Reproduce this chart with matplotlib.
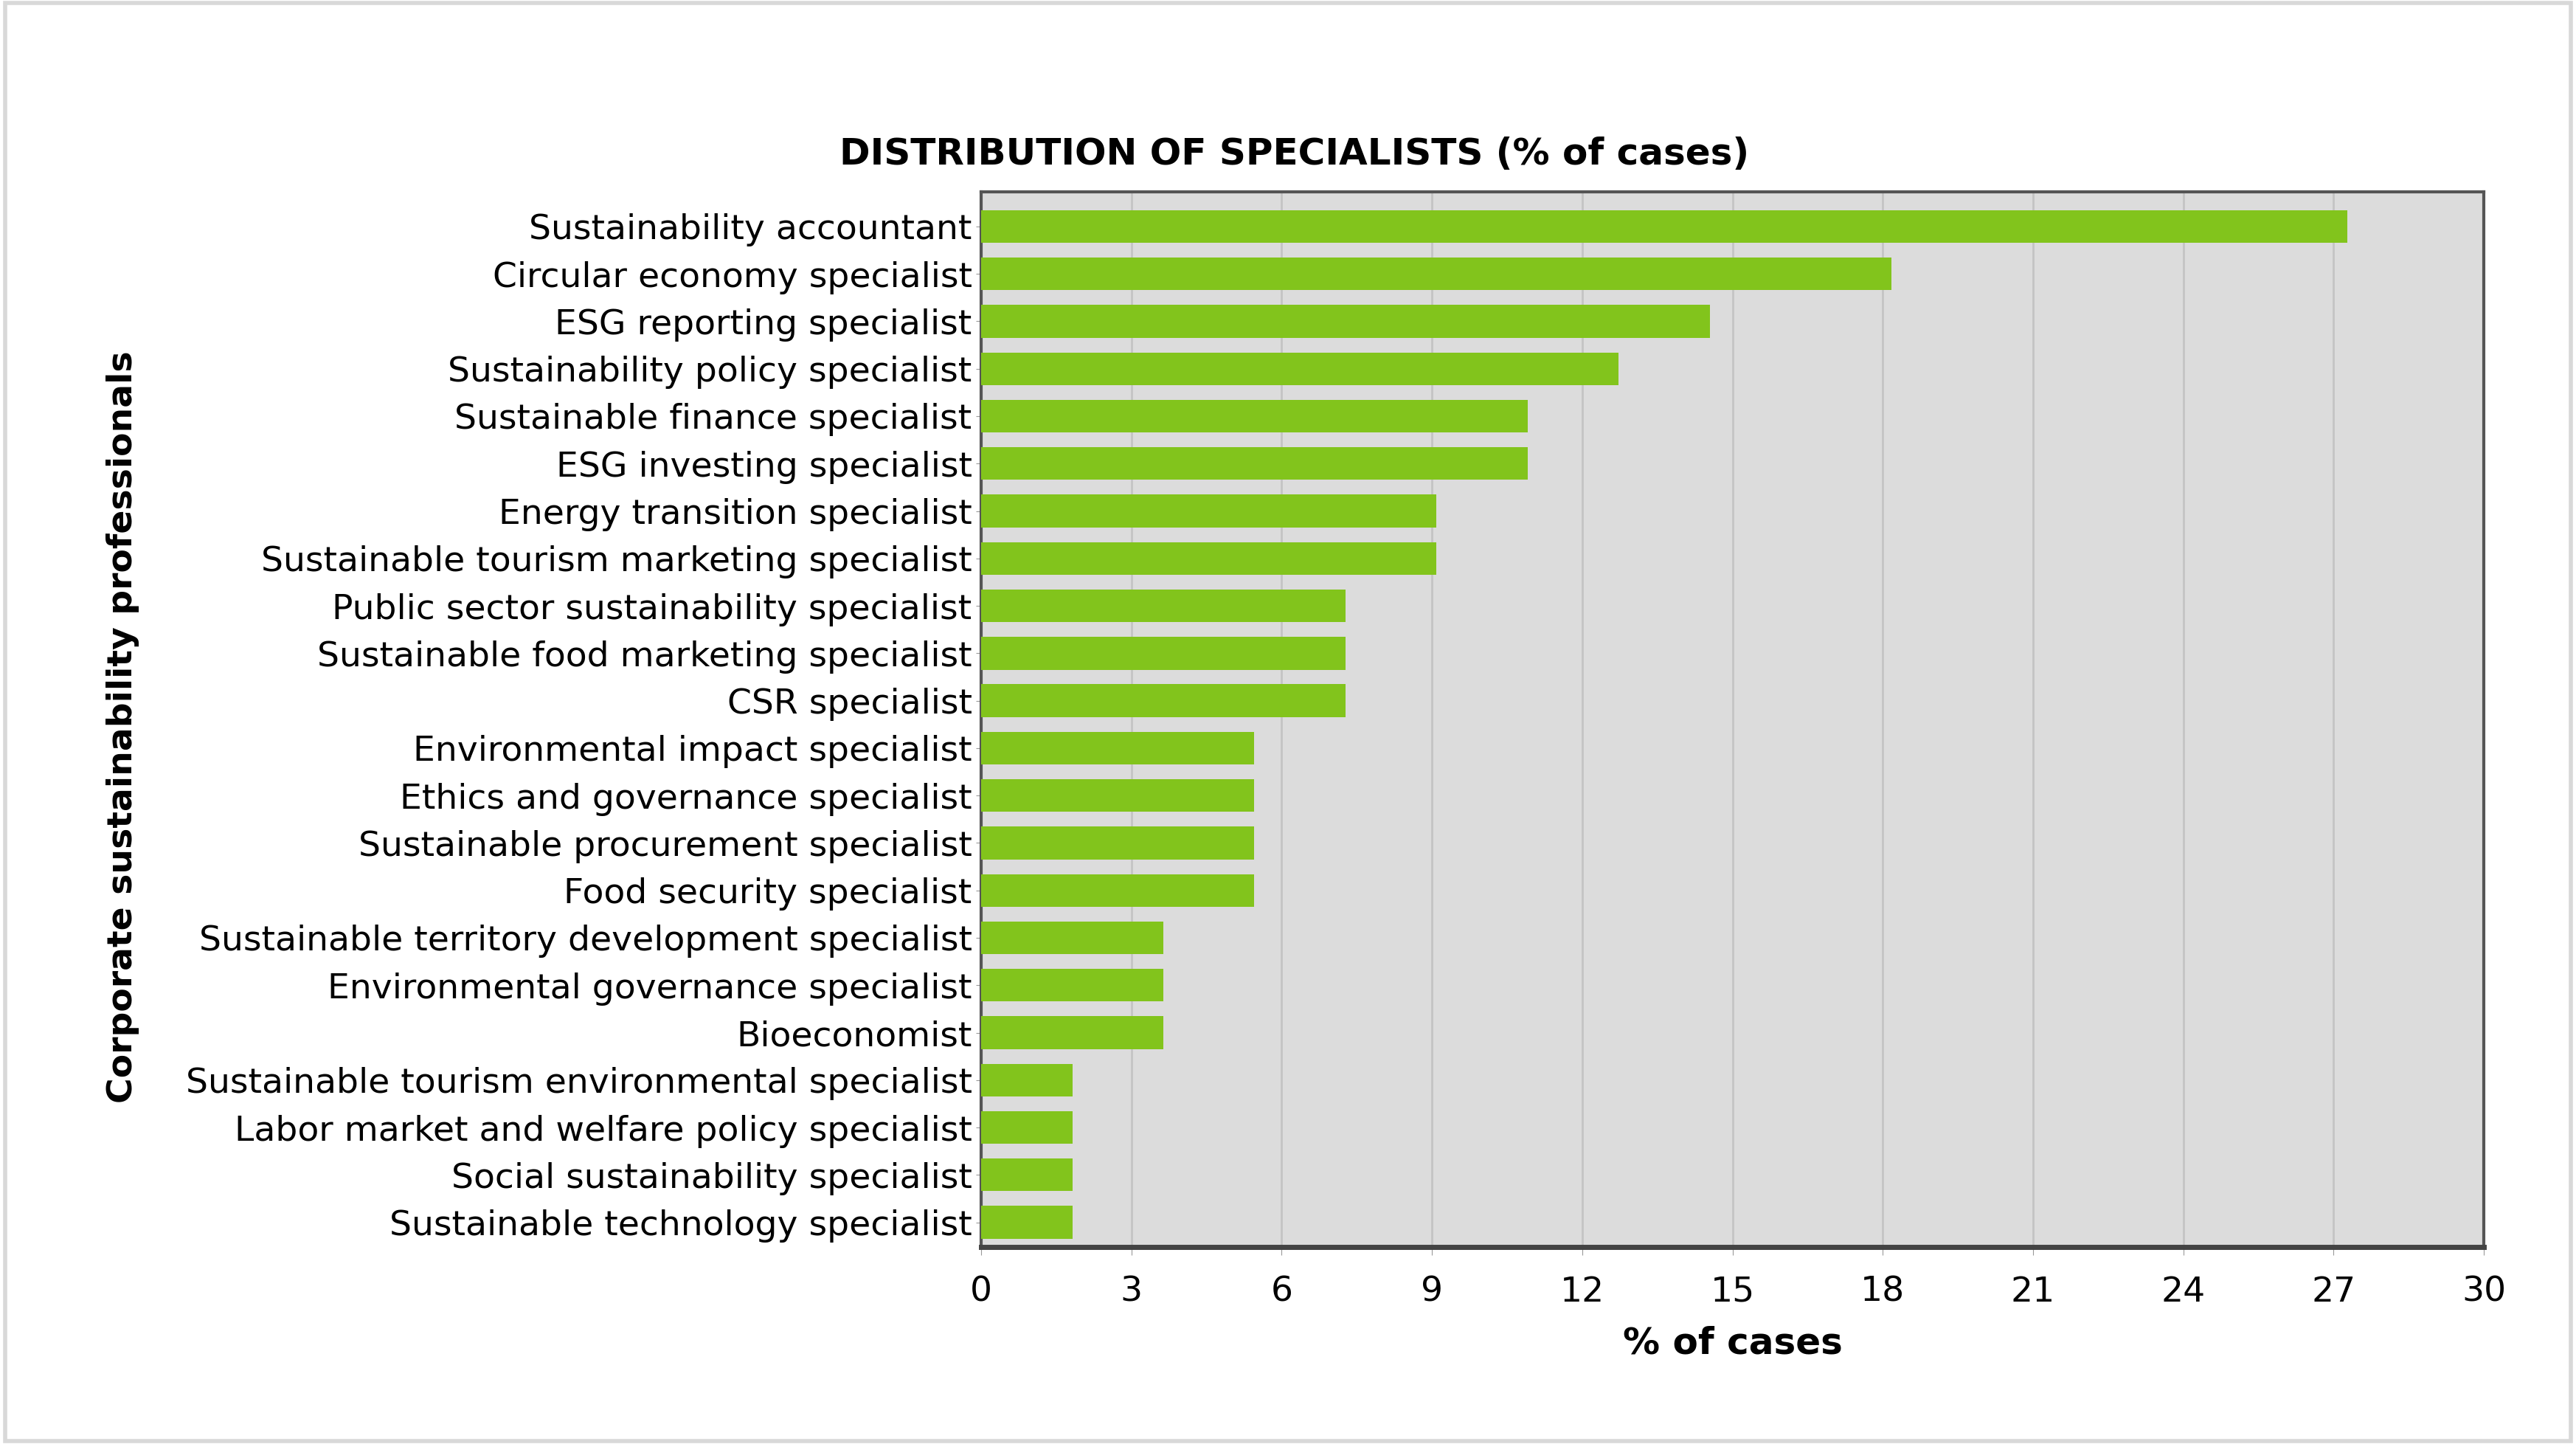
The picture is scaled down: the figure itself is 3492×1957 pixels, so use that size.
import numpy as np
import matplotlib
matplotlib.use("Agg")
import matplotlib.pyplot as plt

# % of cases per specialist profile (top to bottom as in the chart)
specialists = [
    "Sustainability accountant",
    "Circular economy specialist",
    "ESG reporting specialist",
    "Sustainability policy specialist",
    "Sustainable finance specialist",
    "ESG investing specialist",
    "Energy transition specialist",
    "Sustainable tourism marketing specialist",
    "Public sector sustainability specialist",
    "Sustainable food marketing specialist",
    "CSR specialist",
    "Environmental impact specialist",
    "Ethics and governance specialist",
    "Sustainable procurement specialist",
    "Food security specialist",
    "Sustainable territory development specialist",
    "Environmental governance specialist",
    "Bioeconomist",
    "Sustainable tourism environmental specialist",
    "Labor market and welfare policy specialist",
    "Social sustainability specialist",
    "Sustainable technology specialist",
]
pct_cases = [27.27, 18.18, 14.55, 12.73, 10.91, 10.91, 9.09, 9.09,
             7.27, 7.27, 7.27, 5.45, 5.45, 5.45, 5.45,
             3.64, 3.64, 3.64, 1.82, 1.82, 1.82, 1.82]
xticks = [0, 3, 6, 9, 12, 15, 18, 21, 24, 27, 30]

plt.rcParams['font.family'] = ['DejaVu Sans']

fig = plt.figure(figsize=(34.92, 19.57), dpi=100)
ax = fig.add_axes([1330/3492, 1 - 1690/1957, (3367-1330)/3492, (1690-260)/1957])

y = np.arange(len(specialists))
ax.barh(y, pct_cases, height=0.69, color='#82c41c', zorder=3)
ax.set_ylim(len(specialists) - 0.48, -0.73)
ax.set_xlim(0, 30)
ax.set_xticks(xticks)
ax.set_yticks(y)
ax.set_yticklabels(specialists, fontsize=34)
ax.tick_params(axis='x', labelsize=34, length=8, color='#999999', pad=20)
ax.tick_params(axis='y', length=5, color='#999999', pad=4)

ax.set_facecolor('#dcdcdc')
ax.grid(axis='x', color='#c4c4c4', linewidth=2, zorder=0)
for side in ['top', 'right', 'left']:
    ax.spines[side].set_color('#555555')
    ax.spines[side].set_linewidth(3)
ax.spines['bottom'].set_color('#444444')
ax.spines['bottom'].set_linewidth(5)

fig.text(788/1568, 1 - 209/1957, "DISTRIBUTION OF SPECIALISTS (% of cases)",
         fontsize=36, fontweight='bold', ha='center', va='center')
ax.set_xlabel("% of cases", fontsize=36, fontweight='bold', labelpad=16)
fig.text(167/3492, 1 - 985/1957, "Corporate sustainability professionals",
         rotation=90, fontsize=34, fontweight='bold', ha='center', va='center')

# light frame round the whole picture
fig.patches.append(plt.Rectangle((0.002, 0.002), 0.996, 0.996, transform=fig.transFigure,
                                 fill=False, edgecolor='#d8d8d8', linewidth=4))

fig.savefig("out.png", dpi=100, facecolor='white')
